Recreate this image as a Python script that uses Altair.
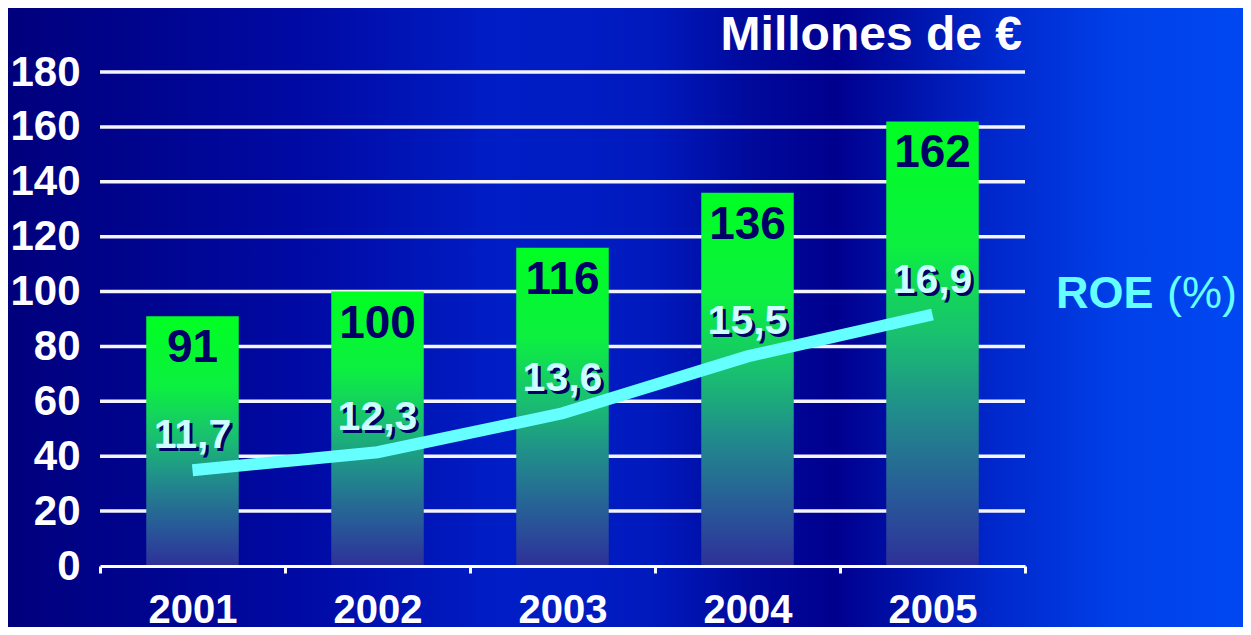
import altair as alt
import pandas as pd

# ---- data ----
years = ["2001", "2002", "2003", "2004", "2005"]
beneficio = [91, 100, 116, 136, 162]
roe = [11.7, 12.3, 13.6, 15.5, 16.9]
roe_labels = ["11,7", "12,3", "13,6", "15,5", "16,9"]
grid_values = [20, 40, 60, 80, 100, 120, 140, 160, 180]
y_ticks = [0, 20, 40, 60, 80, 100, 120, 140, 160, 180]
unit_title = ["Millones de €"]
roe_title_bold = ["ROE"]
roe_title_unit = ["(%)"]

FONT = "Liberation Sans"
W, H = 925, 494
PAD = {"left": 92, "top": 64, "right": 218, "bottom": 61}

df = pd.DataFrame({"year": years, "beneficio": beneficio, "roe": roe, "roe_label": roe_labels})
grid_df = pd.DataFrame({"v": grid_values})
one = pd.DataFrame({"t": [0]})

x_enc = alt.X(
    "year:N",
    sort=years,
    scale=alt.Scale(paddingInner=0, paddingOuter=0),
    axis=alt.Axis(
        title=None, labelAngle=0, labelFont=FONT, labelFontSize=40, labelFontWeight="bold",
        labelColor="white", labelBaseline="alphabetic", labelPadding=49,
        domainColor="white", domainWidth=3, tickColor="white", tickWidth=3, tickSize=7,
        tickBand="extent", grid=False, zindex=1,
    ),
)
y_axis = alt.Axis(
    title=None, values=y_ticks, labelFont=FONT, labelFontSize=42, labelFontWeight="bold",
    labelColor="white", labelPadding=20, ticks=False, domain=False, grid=False, zindex=1,
    labelBaseline="middle",
)
y_scale = alt.Scale(domain=[0, 180], nice=False)

bg_gradient = alt.Gradient(
    gradient="linear", x1=0, y1=0, x2=1, y2=0,
    stops=[
        alt.GradientStop(offset=0.0, color="#00007c"),
        alt.GradientStop(offset=0.24, color="#000aa4"),
        alt.GradientStop(offset=0.40, color="#001ec6"),
        alt.GradientStop(offset=0.52, color="#001abe"),
        alt.GradientStop(offset=0.60, color="#000a9c"),
        alt.GradientStop(offset=0.67, color="#00008e"),
        alt.GradientStop(offset=0.80, color="#0028cc"),
        alt.GradientStop(offset=0.90, color="#0040e8"),
        alt.GradientStop(offset=1.0, color="#0048f2"),
    ],
)
background = alt.Chart(one).mark_rect(fill=bg_gradient).encode(
    x=alt.value(-PAD["left"]), x2=alt.value(W + PAD["right"]),
    y=alt.value(-PAD["top"]), y2=alt.value(H + PAD["bottom"]),
)

grid = alt.Chart(grid_df).mark_rule(color="#f4f4ff", strokeWidth=3.5).encode(
    y=alt.Y("v:Q", scale=y_scale, axis=y_axis),
    x=alt.value(0), x2=alt.value(W),
)

bar_gradient = alt.Gradient(
    gradient="linear", x1=0, y1=0, x2=0, y2=1,
    stops=[
        alt.GradientStop(offset=0.0, color="#00ff22"),
        alt.GradientStop(offset=0.28, color="#0cf040"),
        alt.GradientStop(offset=0.48, color="#19c070"),
        alt.GradientStop(offset=0.64, color="#20908a"),
        alt.GradientStop(offset=0.84, color="#285a98"),
        alt.GradientStop(offset=1.0, color="#2e309a"),
    ],
)
bars = alt.Chart(df).mark_bar(fill=bar_gradient, width=alt.RelativeBandSize(0.5)).encode(
    x=x_enc,
    y=alt.Y("beneficio:Q", scale=y_scale, axis=y_axis),
)
bar_labels = alt.Chart(df).mark_text(
    font=FONT, fontSize=46, fontWeight="bold", color="#000066", baseline="alphabetic", dy=46
).encode(
    x=x_enc,
    y=alt.Y("beneficio:Q", scale=y_scale, axis=y_axis),
    text="beneficio:Q",
)

unit_text = alt.Chart(pd.DataFrame({"t": unit_title})).mark_text(
    font=FONT, fontSize=48, fontWeight="bold", color="white", align="right", baseline="alphabetic"
).encode(x=alt.value(922), y=alt.value(-22), text="t:N")

roe_t1 = alt.Chart(pd.DataFrame({"t": roe_title_bold})).mark_text(
    font=FONT, fontSize=45, fontWeight="bold", color="#66ffff", align="left", baseline="alphabetic"
).encode(x=alt.value(956), y=alt.value(236), text="t:N")
roe_t2 = alt.Chart(pd.DataFrame({"t": roe_title_unit})).mark_text(
    font=FONT, fontSize=45, fontWeight="normal", color="#66ffff", align="left", baseline="alphabetic"
).encode(x=alt.value(1067), y=alt.value(236), text="t:N")

base_layer = alt.layer(background, grid, bars, bar_labels, unit_text, roe_t1, roe_t2)

roe_y = alt.Y("roe:Q", scale=alt.Scale(domain=[8.5, 25], nice=False, zero=False), axis=None)
line = alt.Chart(df).mark_line(color="#66ffff", strokeWidth=12, strokeCap="butt").encode(
    x=x_enc, y=roe_y
)
roe_shadow = alt.Chart(df).mark_text(
    font=FONT, fontSize=41, fontWeight="bold", color="#000066", baseline="alphabetic", dx=3, dy=-19
).encode(x=x_enc, y=roe_y, text="roe_label:N")
roe_text = alt.Chart(df).mark_text(
    font=FONT, fontSize=41, fontWeight="bold", color="#ccffff", baseline="alphabetic", dy=-22
).encode(x=x_enc, y=roe_y, text="roe_label:N")

roe_layer = alt.layer(line, roe_shadow, roe_text)

chart = (
    alt.layer(base_layer, roe_layer)
    .resolve_scale(y="independent")
    .properties(width=W, height=H, autosize=alt.AutoSizeParams(type="none"), padding=PAD,
                background="#000080")
    .configure_view(stroke=None)
)

chart.save("out.html", embed_options={"renderer": "svg", "actions": False})
